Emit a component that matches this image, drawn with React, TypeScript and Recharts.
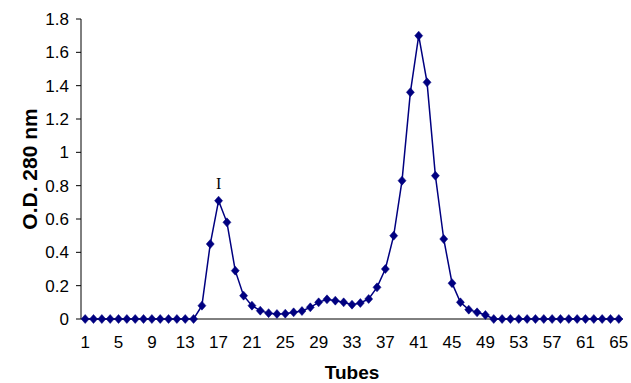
import React from 'react';
import { LineChart, Line, XAxis, YAxis, ReferenceDot } from 'recharts';

const tubes = [
  1, 2, 3, 4, 5, 6, 7, 8, 9, 10, 11, 12, 13, 14, 15, 16, 17, 18, 19, 20,
  21, 22, 23, 24, 25, 26, 27, 28, 29, 30, 31, 32, 33, 34, 35, 36, 37, 38, 39, 40,
  41, 42, 43, 44, 45, 46, 47, 48, 49, 50, 51, 52, 53, 54, 55, 56, 57, 58, 59, 60,
  61, 62, 63, 64, 65,
];

const od280 = [
  0, 0, 0, 0, 0, 0, 0, 0, 0, 0, 0, 0, 0, 0, 0.08, 0.45, 0.71, 0.58, 0.29, 0.14,
  0.08, 0.05, 0.035, 0.03, 0.032, 0.04, 0.048, 0.07, 0.1, 0.118, 0.11, 0.1, 0.086, 0.096, 0.12, 0.19, 0.3, 0.5, 0.83, 1.36,
  1.7, 1.42, 0.86, 0.48, 0.215, 0.1, 0.056, 0.04, 0.024, 0, 0, 0, 0, 0, 0, 0, 0, 0, 0, 0,
  0, 0, 0, 0, 0,
];

const xTickLabels = [1, 5, 9, 13, 17, 21, 25, 29, 33, 37, 41, 45, 49, 53, 57, 61, 65];
const xBoundaries = [
  0.5, 1.5, 2.5, 3.5, 4.5, 5.5, 6.5, 7.5, 8.5, 9.5, 10.5, 11.5, 12.5, 13.5, 14.5, 15.5, 16.5, 17.5, 18.5, 19.5,
  20.5, 21.5, 22.5, 23.5, 24.5, 25.5, 26.5, 27.5, 28.5, 29.5, 30.5, 31.5, 32.5, 33.5, 34.5, 35.5, 36.5, 37.5, 38.5, 39.5,
  40.5, 41.5, 42.5, 43.5, 44.5, 45.5, 46.5, 47.5, 48.5, 49.5, 50.5, 51.5, 52.5, 53.5, 54.5, 55.5, 56.5, 57.5, 58.5, 59.5,
  60.5, 61.5, 62.5, 63.5, 64.5, 65.5,
];
const yTicks = [0, 0.2, 0.4, 0.6, 0.8, 1, 1.2, 1.4, 1.6, 1.8];
const peakLabels = [{ tube: 17, text: 'I' }];

const data = tubes.map((t, i) => ({ tube: t, od: od280[i] }));

const NAVY = '#000080';
const FONT = '"Liberation Sans", Arial, sans-serif';

const Diamond = (props: any) => {
  const { cx, cy } = props;
  if (cx == null || cy == null) return null;
  return (
    <polygon
      points={`${cx},${cy - 4.5} ${cx + 4},${cy} ${cx},${cy + 4.5} ${cx - 4},${cy}`}
      fill={NAVY}
      stroke={NAVY}
      strokeWidth={0.5}
    />
  );
};

export default function App() {
  return (
    <div style={{ position: 'absolute', left: 0, top: 0, background: '#fff' }}>
      <LineChart
        width={631}
        height={383}
        data={data}
        margin={{ top: 19, right: 8, left: 0, bottom: 0 }}
      >
        <XAxis
          xAxisId="grid"
          dataKey="tube"
          type="number"
          domain={[0.5, 65.5]}
          ticks={xBoundaries}
          interval={0}
          tick={false}
          tickSize={5}
          height={1}
          axisLine={{ stroke: '#000', strokeWidth: 1 }}
          tickLine={{ stroke: '#000', strokeWidth: 1 }}
        />
        <XAxis
          xAxisId="main"
          dataKey="tube"
          type="number"
          domain={[0.5, 65.5]}
          ticks={xTickLabels}
          interval={0}
          height={63}
          axisLine={false}
          tickLine={false}
          tickSize={5}
          tickMargin={11}
          tick={{ fill: '#000', fontSize: 17, fontFamily: FONT }}
          label={{
            value: 'Tubes',
            position: 'insideBottom',
            offset: 4,
            style: { fill: '#000', fontSize: 19, fontWeight: 'bold', fontFamily: FONT },
          }}
        />
        <YAxis
          domain={[0, 1.8]}
          ticks={yTicks}
          interval={0}
          width={81}
          tickSize={5}
          tickMargin={7}
          axisLine={{ stroke: '#000', strokeWidth: 1 }}
          tickLine={{ stroke: '#000', strokeWidth: 1 }}
          tick={{ fill: '#000', fontSize: 17, fontFamily: FONT }}
          label={{
            value: 'O.D. 280 nm',
            angle: -90,
            position: 'insideLeft',
            offset: 30,
            style: { textAnchor: 'middle', fill: '#000', fontSize: 21, fontWeight: 'bold', fontFamily: FONT },
          }}
        />
        <Line
          xAxisId="main"
          type="linear"
          dataKey="od"
          stroke={NAVY}
          strokeWidth={1.5}
          dot={<Diamond />}
          activeDot={false}
          isAnimationActive={false}
        />
        {peakLabels.map((p) => (
          <ReferenceDot
            key={p.tube}
            xAxisId="main"
            x={p.tube}
            y={od280[tubes.indexOf(p.tube)]}
            r={0}
            fill="none"
            stroke="none"
            label={{
              value: p.text,
              position: 'top',
              offset: 12,
              style: { fill: '#000', fontSize: 16, fontFamily: '"Liberation Serif", "Times New Roman", serif' },
            }}
          />
        ))}
      </LineChart>
    </div>
  );
}
